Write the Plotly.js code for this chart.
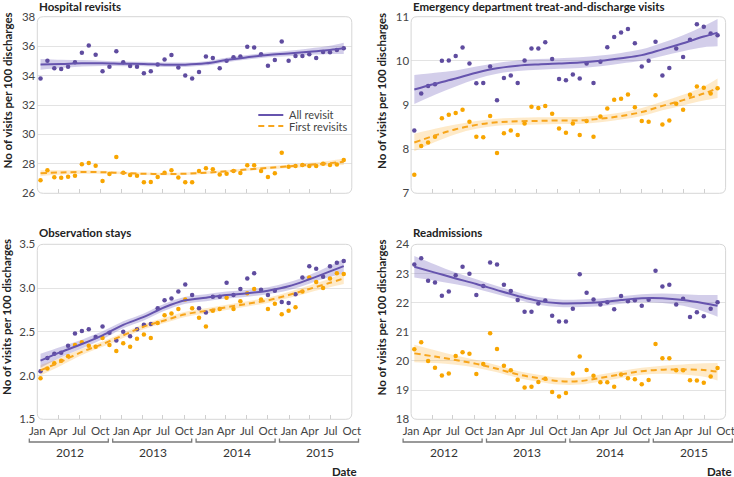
<!DOCTYPE html>
<html><head><meta charset="utf-8">
<script src="https://cdn.plot.ly/plotly-3.0.1.min.js"></script>
<style>html,body{margin:0;padding:0;background:#fff}#chart{width:734px;height:477px}</style>
</head><body><div id="chart"></div>
<script>
// ---------------- data ----------------
const startDate = '2012-01-15';   // first monthly observation
const stepDays = 30;
const nPoints = 45;
const fitIdx = [0,3,6,9,12,15,18,21,24,27,30,33,36,39,42,44];
const years = ['2012','2013','2014','2015'];
const panelTitles = ['Hospital revisits','Emergency department treat-and-discharge visits','Observation stays','Readmissions'];
const seriesNames = ['All revisit','First revisits'];
const yTitle = 'No of visits per 100 discharges';

const hospAll = [33.8,35.0,34.5,34.45,34.6,34.9,35.55,36.05,35.42,34.3,34.6,35.65,34.9,34.65,34.6,34.15,34.3,34.75,35.1,35.4,34.55,34.0,33.8,34.25,35.3,35.2,34.5,35.0,35.25,35.3,35.95,35.9,35.45,34.67,35.05,36.32,35.0,35.33,35.33,35.45,35.2,35.6,35.58,35.74,35.85];
const hospFirst = [26.88,27.56,27.09,27.05,27.13,27.2,27.97,28.06,27.88,26.84,27.31,28.47,27.4,27.24,27.2,26.75,26.77,27.1,27.4,27.56,27.07,26.75,26.75,27.52,27.7,27.63,27.27,27.33,27.52,27.38,27.9,27.9,27.52,27.1,27.36,28.76,27.8,27.86,27.93,27.86,27.86,28.0,27.93,27.95,28.27];
const edAll = [8.42,9.26,9.43,9.47,10.0,10.01,10.11,10.3,9.94,9.49,9.5,9.87,9.11,9.61,9.67,9.5,10.01,10.28,10.28,10.42,10.04,9.59,9.56,9.69,9.6,9.94,9.5,9.98,10.31,10.54,10.64,10.72,10.4,9.87,10.0,10.43,9.67,9.84,10.28,10.09,10.48,10.83,10.77,10.62,10.58];
const edFirst = [7.42,8.07,8.15,8.28,8.7,8.78,8.82,8.89,8.62,8.28,8.27,8.75,7.91,8.36,8.42,8.32,8.58,8.96,8.93,8.98,8.8,8.47,8.37,8.58,8.32,8.64,8.28,8.74,8.92,9.12,9.14,9.24,8.95,8.64,8.62,9.22,8.56,8.65,9.03,8.89,9.23,9.42,9.39,9.26,9.38];
const obsAll = [2.05,2.2,2.25,2.26,2.34,2.48,2.51,2.53,2.44,2.56,2.49,2.4,2.5,2.45,2.53,2.58,2.59,2.77,2.86,2.88,2.96,3.04,2.92,2.77,2.72,2.9,2.9,3.06,2.92,2.99,3.11,3.17,2.98,2.92,2.97,2.84,2.83,2.93,3.12,3.25,3.22,3.13,3.25,3.29,3.31];
const obsFirst = [1.97,2.08,2.14,2.17,2.22,2.35,2.38,2.34,2.33,2.43,2.35,2.28,2.37,2.33,2.42,2.47,2.43,2.6,2.69,2.71,2.76,2.87,2.77,2.66,2.56,2.74,2.76,2.89,2.76,2.85,2.94,2.99,2.87,2.76,2.82,2.7,2.74,2.78,2.96,3.12,3.07,3.0,3.11,3.17,3.16];
const readAll = [23.31,23.52,22.75,22.69,22.24,22.38,22.94,23.23,22.99,22.26,22.57,23.38,23.31,22.61,22.4,22.09,21.69,21.69,21.97,22.07,21.55,21.35,21.35,21.79,22.97,22.34,22.11,21.94,22.01,21.77,22.23,22.05,22.08,21.89,22.1,23.09,22.55,22.61,21.94,22.13,21.51,21.67,21.53,21.79,22.01];
const readFirst = [20.4,20.64,20.0,19.77,19.5,19.57,20.17,20.3,20.25,19.55,19.9,20.95,20.41,19.84,19.68,19.36,19.09,19.12,19.28,19.39,18.94,18.78,18.9,19.57,20.15,19.69,19.49,19.27,19.27,19.12,19.54,19.41,19.37,19.2,19.35,20.58,20.09,20.09,19.68,19.68,19.34,19.33,19.25,19.47,19.76];

// smoothed fits (read at fitIdx points) and half-widths of the confidence band
const hospAllFit = [34.76,34.79,34.83,34.83,34.8,34.79,34.74,34.74,34.83,35.06,35.24,35.4,35.5,35.62,35.74,35.85];
const hospAllHW = [0.36,0.28,0.22,0.18,0.16,0.15,0.15,0.15,0.15,0.15,0.15,0.16,0.18,0.22,0.28,0.38];
const hospFirstFit = [27.36,27.42,27.45,27.43,27.38,27.33,27.31,27.33,27.4,27.5,27.62,27.73,27.83,27.94,28.05,28.14];
const hospFirstHW = [0.2,0.15,0.12,0.1,0.09,0.09,0.09,0.09,0.09,0.09,0.09,0.1,0.11,0.13,0.17,0.22];
const edAllFit = [9.35,9.48,9.6,9.73,9.83,9.89,9.92,9.94,9.96,10.0,10.06,10.13,10.26,10.4,10.55,10.64];
const edAllHW = [0.33,0.25,0.18,0.14,0.12,0.12,0.12,0.12,0.12,0.12,0.12,0.13,0.15,0.18,0.24,0.31];
const edFirstFit = [8.15,8.31,8.45,8.55,8.61,8.63,8.64,8.65,8.65,8.69,8.75,8.84,8.98,9.11,9.26,9.38];
const edFirstHW = [0.2,0.15,0.11,0.09,0.08,0.08,0.08,0.08,0.08,0.08,0.08,0.09,0.1,0.12,0.16,0.22];
const obsAllFit = [2.17,2.27,2.36,2.46,2.58,2.67,2.78,2.86,2.89,2.92,2.94,2.97,3.02,3.1,3.19,3.25];
const obsAllHW = [0.08,0.06,0.05,0.045,0.04,0.04,0.04,0.04,0.04,0.04,0.04,0.04,0.045,0.05,0.065,0.085];
const obsFirstFit = [2.06,2.16,2.27,2.36,2.46,2.56,2.63,2.7,2.74,2.78,2.82,2.86,2.92,2.99,3.06,3.11];
const obsFirstHW = [0.06,0.045,0.035,0.03,0.03,0.03,0.03,0.03,0.03,0.03,0.03,0.03,0.035,0.04,0.05,0.065];
const readAllFit = [23.23,23.03,22.83,22.64,22.43,22.23,22.06,21.98,21.98,22.01,22.09,22.15,22.15,22.09,21.98,21.89];
const readAllHW = [0.37,0.28,0.2,0.16,0.14,0.13,0.13,0.13,0.13,0.13,0.13,0.14,0.16,0.2,0.28,0.37];
const readFirstFit = [20.26,20.15,20.03,19.9,19.73,19.54,19.41,19.31,19.31,19.42,19.54,19.65,19.7,19.71,19.69,19.63];
const readFirstHW = [0.3,0.22,0.16,0.13,0.12,0.12,0.12,0.12,0.12,0.12,0.12,0.12,0.14,0.17,0.23,0.3];

// ---------------- build ----------------
const W = 734, H = 477;
const px = v => v / W, py = v => 1 - v / H;
const t0 = Date.parse(startDate + 'T00:00:00Z');
const dates = [];
for (let i = 0; i < nPoints; i++) dates.push(new Date(t0 + i * stepDays * 86400000).toISOString().slice(0, 10));
const fitDates = fitIdx.map(i => dates[i]);

const PURPLE = '#5f4c9f', PURPLE_LINE = '#6654ae', PURPLE_FILL = 'rgba(110,92,185,0.30)';
const ORANGE = '#f8a500', ORANGE_LINE = '#f7a51c', ORANGE_FILL = 'rgba(252,178,60,0.28)';
const FONT = 'Lato, "Open Sans", sans-serif';

const traces = [];
function band(xa, ya, fit, hw, fill) {
  traces.push({x: fitDates, y: fit.map((v, i) => v - hw[i]), xaxis: xa, yaxis: ya, type: 'scatter', mode: 'lines',
    line: {width: 0, shape: 'spline', smoothing: 1}, hoverinfo: 'skip', showlegend: false});
  traces.push({x: fitDates, y: fit.map((v, i) => v + hw[i]), xaxis: xa, yaxis: ya, type: 'scatter', mode: 'lines',
    line: {width: 0, shape: 'spline', smoothing: 1}, fill: 'tonexty', fillcolor: fill, hoverinfo: 'skip', showlegend: false});
}
function panel(xa, ya, all, first, aFit, aHW, fFit, fHW) {
  band(xa, ya, fFit, fHW, ORANGE_FILL);
  band(xa, ya, aFit, aHW, PURPLE_FILL);
  traces.push({x: dates, y: all, xaxis: xa, yaxis: ya, type: 'scatter', mode: 'markers', name: seriesNames[0],
    marker: {color: PURPLE, size: 4.5}, showlegend: false, hoverinfo: 'x+y'});
  traces.push({x: dates, y: first, xaxis: xa, yaxis: ya, type: 'scatter', mode: 'markers', name: seriesNames[1],
    marker: {color: ORANGE, size: 4.5}, showlegend: false, hoverinfo: 'x+y'});
  traces.push({x: fitDates, y: fFit, xaxis: xa, yaxis: ya, type: 'scatter', mode: 'lines', name: seriesNames[1],
    line: {color: ORANGE_LINE, width: 2, dash: '6px,4px', shape: 'spline', smoothing: 1}, showlegend: false, hoverinfo: 'skip'});
  traces.push({x: fitDates, y: aFit, xaxis: xa, yaxis: ya, type: 'scatter', mode: 'lines', name: seriesNames[0],
    line: {color: PURPLE_LINE, width: 2, shape: 'spline', smoothing: 1}, showlegend: false, hoverinfo: 'skip'});
}
panel('x', 'y', hospAll, hospFirst, hospAllFit, hospAllHW, hospFirstFit, hospFirstHW);
panel('x2', 'y2', edAll, edFirst, edAllFit, edAllHW, edFirstFit, edFirstHW);
panel('x3', 'y3', obsAll, obsFirst, obsAllFit, obsAllHW, obsFirstFit, obsFirstHW);
panel('x4', 'y4', readAll, readFirst, readAllFit, readAllHW, readFirstFit, readFirstHW);

// geometry (pixels)
const leftL = 37.3, rightL = 351.8, leftR = 411.1, rightR = 725.6;
const topT = 16.7, botT = 193.3, topB = 244.3, botB = 419.3;
const xRange = ['2012-01-01', '2015-10-01'];

function xaxis(dom, anchor, labels) {
  return {domain: dom, anchor: anchor, type: 'date', range: xRange, dtick: 'M3', tick0: '2012-01-01',
    tickformat: '%b', ticks: 'inside', ticklen: 4, tickcolor: '#cfcfcf', tickwidth: 1,
    showticklabels: labels, showgrid: false, zeroline: false, showline: false, ticklabeloverflow: 'allow',
    ticklabelstandoff: 3,
    tickfont: {family: FONT, size: 11.5, color: '#444'}, fixedrange: true};
}
function yaxis(dom, anchor, range, dtick, fmt) {
  return {domain: dom, anchor: anchor, range: range, dtick: dtick, tick0: range[0], tickformat: fmt,
    ticks: '', showgrid: true, gridcolor: '#e3e3e3', gridwidth: 1, zeroline: false, showline: false,
    tickfont: {family: FONT, size: 11.5, color: '#444'}, ticklabelstandoff: 1, ticklabeloverflow: 'allow', fixedrange: true};
}

const domXL = [px(leftL), px(rightL)], domXR = [px(leftR), px(rightR)];
const domYT = [py(botT), py(topT)], domYB = [py(botB), py(topB)];

const shapes = [];
const rx = 6 / (rightL - leftL), ry = 6 / (botT - topT);
const framePath = `M ${rx},0 L ${1-rx},0 Q 1,0 1,${ry} L 1,${1-ry} Q 1,1 ${1-rx},1 L ${rx},1 Q 0,1 0,${1-ry} L 0,${ry} Q 0,0 ${rx},0 Z`;
[['x','y'],['x2','y2'],['x3','y3'],['x4','y4']].forEach(([a, b]) => {
  shapes.push({type: 'path', xref: a + ' domain', yref: b + ' domain', path: framePath,
    line: {color: '#d6d6d6', width: 1}, layer: 'above'});
});

const annotations = [];
const ann = (text, x, y, o) => annotations.push(Object.assign({text: text, x: px(x), y: py(y), xref: 'paper', yref: 'paper',
  showarrow: false, font: {family: FONT, size: 11, color: '#222'}}, o || {}));

// panel titles
ann('<b>' + panelTitles[0] + '</b>', leftL, 6.5, {xanchor: 'left', yanchor: 'middle', font: {family: FONT, size: 11.5, color: '#222'}});
ann('<b>' + panelTitles[1] + '</b>', leftR, 6.5, {xanchor: 'left', yanchor: 'middle', font: {family: FONT, size: 11.5, color: '#222'}});
ann('<b>' + panelTitles[2] + '</b>', leftL, 233, {xanchor: 'left', yanchor: 'middle', font: {family: FONT, size: 11.5, color: '#222'}});
ann('<b>' + panelTitles[3] + '</b>', leftR, 233, {xanchor: 'left', yanchor: 'middle', font: {family: FONT, size: 11.5, color: '#222'}});
// y titles
[[6.5, 91], [381, 91], [6.5, 317.5], [381, 317.5]].forEach(([x, y]) =>
  ann('<b>' + yTitle + '</b>', x, y, {textangle: -90, xanchor: 'center', yanchor: 'middle', font: {family: FONT, size: 11.5, color: '#222'}}));

// year brackets
const perYear = 83.4;
[leftL, leftR].forEach(L => {
  years.forEach((yr, k) => {
    const a = L - 8 + perYear * k, b = L + 71 + perYear * k;
    shapes.push({type: 'path', xref: 'paper', yref: 'paper',
      path: `M ${px(a)},${py(438.5)} L ${px(a)},${py(442)} L ${px(b)},${py(442)} L ${px(b)},${py(438.5)}`,
      line: {color: '#7a7a7a', width: 1.3}});
    ann(yr, L + 32.5 + perYear * k, 452.5, {xanchor: 'center', yanchor: 'middle', font: {family: FONT, size: 12, color: '#333'}});
  });
});
ann('<b>Date</b>', 359, 471, {xanchor: 'right', yanchor: 'middle', font: {family: FONT, size: 11.5, color: '#222'}});
ann('<b>Date</b>', 734, 471, {xanchor: 'right', yanchor: 'middle', font: {family: FONT, size: 11.5, color: '#222'}});

// legend (in the first panel)
shapes.push({type: 'line', xref: 'paper', yref: 'paper', x0: px(258.3), x1: px(283.3), y0: py(115), y1: py(115),
  line: {color: PURPLE_LINE, width: 2}});
shapes.push({type: 'line', xref: 'paper', yref: 'paper', x0: px(258.3), x1: px(283.3), y0: py(126), y1: py(126),
  line: {color: ORANGE_LINE, width: 2, dash: '6px,4px'}});
ann(seriesNames[0], 287, 115, {xanchor: 'left', yanchor: 'middle', font: {family: FONT, size: 11, color: '#444'}});
ann(seriesNames[1], 287, 126.5, {xanchor: 'left', yanchor: 'middle', font: {family: FONT, size: 11, color: '#444'}});

const layout = {
  width: W, height: H, margin: {l: 0, r: 0, t: 0, b: 0}, paper_bgcolor: '#fff', plot_bgcolor: '#fff',
  showlegend: false, font: {family: FONT},
  xaxis: xaxis(domXL, 'y', false), yaxis: yaxis(domYT, 'x', [26, 38], 2, 'd'),
  xaxis2: xaxis(domXR, 'y2', false), yaxis2: yaxis(domYT, 'x2', [7, 11], 1, 'd'),
  xaxis3: xaxis(domXL, 'y3', true), yaxis3: yaxis(domYB, 'x3', [1.5, 3.5], 0.5, '.1f'),
  xaxis4: xaxis(domXR, 'y4', true), yaxis4: yaxis(domYB, 'x4', [18, 24], 1, 'd'),
  shapes: shapes, annotations: annotations
};
Plotly.newPlot('chart', traces, layout, {displayModeBar: false, staticPlot: true});
</script></body></html>
